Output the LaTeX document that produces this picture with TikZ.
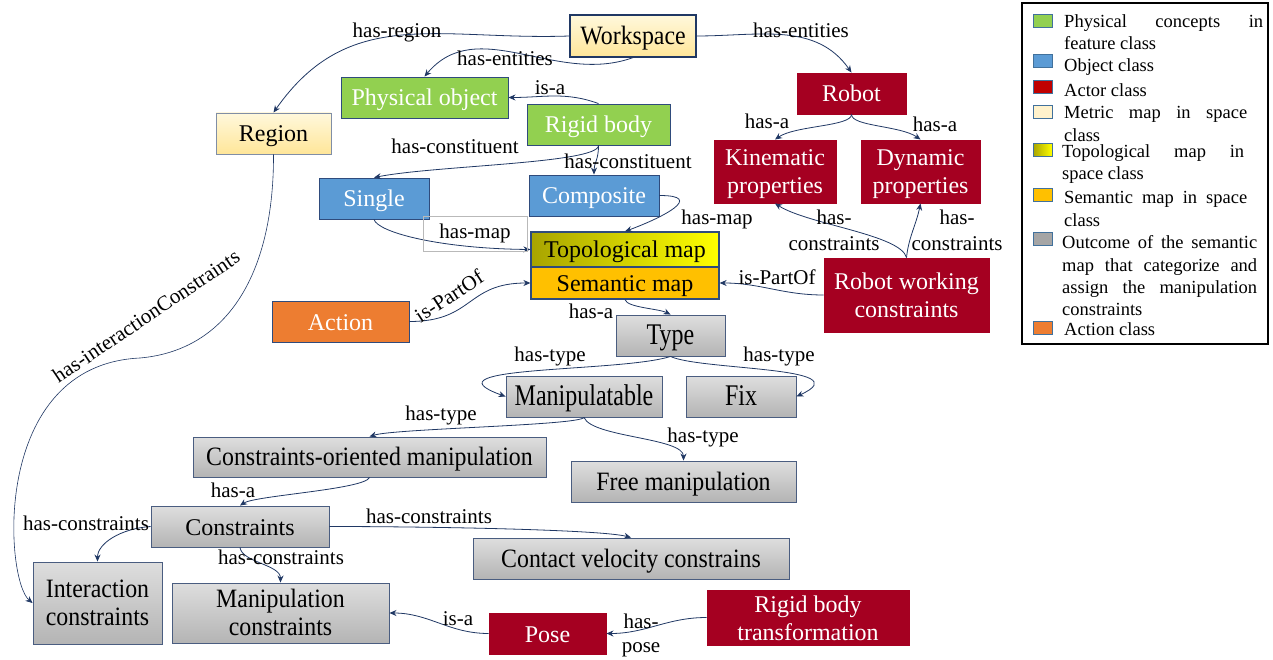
\documentclass[tikz,border=0pt]{standalone}
\usepackage{fontspec}
\setmainfont{Liberation Serif}
\usetikzlibrary{arrows.meta,calc}

\definecolor{cNavy}{HTML}{203864}
\definecolor{cBorder}{HTML}{2F4B7C}
\definecolor{cGreen}{HTML}{92D050}
\definecolor{cBlue}{HTML}{5B9BD5}
\definecolor{cRed}{HTML}{A50021}
\definecolor{cOrange}{HTML}{ED7D31}
\definecolor{cAmber}{HTML}{FFC000}
\definecolor{cCreamTop}{HTML}{FFF8DC}
\definecolor{cCreamBot}{HTML}{FFE699}
\definecolor{cGrayTop}{HTML}{DEDEDE}
\definecolor{cGrayBot}{HTML}{B4B4B4}
\definecolor{cGrayEdge}{HTML}{4A5D80}
\definecolor{cOlive}{HTML}{A8A400}
\definecolor{cMidYellow}{HTML}{EBEB00}
\definecolor{cLegRed}{HTML}{C00000}
\definecolor{cLegGray}{HTML}{A5A5A5}
\definecolor{cLegEdge}{HTML}{41719C}
\definecolor{cLegCream}{HTML}{FFF2CC}

\newcommand\ndfont{\fontsize{24}{28}\selectfont}
% taller, narrower settings of the same face for some box texts
\newcommand\ndfontmid{\fontsize{26.5}{28}\selectfont\addfontfeature{FakeStretch=0.9}}
\newcommand\ndfonttall{\fontsize{30}{32}\selectfont\addfontfeature{FakeStretch=0.8}}
\newcommand\lbfont{\fontsize{21}{26}\selectfont}
\newcommand\lgfont{\fontsize{18.5}{22}\selectfont}

\begin{document}
\begin{tikzpicture}[x=1pt,y=1pt,
  sz/.style 2 args={minimum width=#1pt, minimum height=#2pt},
  base/.style={rectangle, inner sep=0pt, line width=0.9pt, align=center, font=\ndfont,
    text height=22pt, text depth=5pt},
  twoline/.style={text height=50pt},
  mid/.style={font=\ndfontmid},
  tall/.style={font=\ndfonttall},
  green/.style={base, fill=cGreen, draw=cBorder, text=white},
  blue/.style={base, fill=cBlue, draw=cBorder, text=white},
  red/.style={base, fill=cRed, draw=cRed, text=white},
  orangebox/.style={base, fill=cOrange, draw=cBorder, text=white},
  cream/.style={base, draw=cBorder, top color=cCreamTop, bottom color=cCreamBot},
  gray/.style={base, draw=cGrayEdge, top color=cGrayTop, bottom color=cGrayBot},
  topo/.style={base, draw=cBorder, line width=1.2pt, left color=cOlive, middle color=cMidYellow, right color=yellow},
  sem/.style={base, draw=cBorder, line width=1.2pt, fill=cAmber},
  lbl/.style={font=\lbfont, inner sep=0pt, align=center, text=black},
  link/.style={draw=cNavy, line width=0.8pt, -{Stealth[length=7pt,width=6pt]}},
  swatch/.style={rectangle, inner sep=0pt, minimum width=19pt, minimum height=13pt, draw=cLegEdge, line width=0.8pt},
  legtext/.style={font=\lgfont, inner sep=0pt, anchor=base west}
]
\path[fill=white, use as bounding box] (0,0) rectangle (1273,-660);

% ---------- concept boxes ----------
\node[cream, mid, sz={126}{42}, draw=cNavy, line width=1.2pt] (ws) at (633,-36) {Workspace};
\node[green, sz={167}{41}] (phys) at (424.5,-97.5) {Physical object};
\node[green, sz={143}{41}] (rb) at (598.5,-124.5) {Rigid body};
\node[cream, sz={115}{41}, draw=cGrayEdge!70] (region) at (273.5,-133.5) {Region};
\node[red, sz={109}{41}] (robot) at (851.5,-93.5) {Robot};
\node[red, twoline, sz={122}{63}] (kin) at (775,-171.5) {Kinematic\\properties};
\node[red, twoline, sz={119}{63}] (dyn) at (920.5,-171.5) {Dynamic\\properties};
\node[blue, sz={110}{41}] (single) at (374,-198.5) {Single};
\node[blue, sz={130}{41}] (comp) at (594,-195.5) {Composite};
\node[topo, sz={188}{35}] (topomap) at (625,-249.5) {Topological map};
\node[sem, sz={188}{32}] (semmap) at (625,-283) {Semantic map};
\node[red, twoline, sz={165}{74}] (rwc) at (906.5,-295) {Robot working\\constraints};
\node[orangebox, sz={137}{41}] (action) at (340.5,-321.5) {Action};
\node[gray, tall, sz={109}{41}] (type) at (670.5,-335.5) {Type};
\node[gray, tall, sz={156}{41}] (manip) at (584,-396.5) {Manipulatable};
\node[gray, tall, sz={110}{41}] (fix) at (741,-396.5) {Fix};
\node[gray, mid, sz={353}{40}] (co) at (369.5,-457) {Constraints-oriented manipulation};
\node[gray, mid, sz={225}{41}] (free) at (683.5,-481.5) {Free manipulation};
\node[gray, sz={178}{41}] (cons) at (240,-526.5) {Constraints};
\node[gray, mid, sz={316}{41}] (cv) at (631,-558.5) {Contact velocity constrains};
\node[gray, mid, twoline, sz={129}{82}] (inter) at (97.5,-603) {Interaction\\constraints};
\node[gray, mid, twoline, sz={217}{60}] (mc) at (280.5,-613) {Manipulation\\constraints};
\node[red, sz={117}{41}] (pose) at (547.5,-633.5) {Pose};
\node[red, twoline, sz={202}{53}] (rbt) at (808,-617.5) {Rigid body\\transformation};

% ---------- relations ----------
\draw[link] (ws.west) to[out=182, in=55, looseness=1.1] (region.north)
  node[lbl] at (397,-32) {has-region};
\draw[link] (ws.south) to[out=200, in=50] (phys.north)
  node[lbl] at (505,-58) {has-entities};
\draw[link] (ws.east) to[out=0, in=125] (robot.north)
  node[lbl] at (801,-30) {has-entities};
\draw[link] (rb.north) to[out=160, in=0] (phys.east)
  node[lbl] at (550,-88) {is-a};
\draw[link] (rb.south) .. controls +(0,-18) and +(60,12) .. (single.north)
  node[lbl] at (455,-146) {has-constituent};
\draw[link] (rb.south) .. controls +(0,-15) and +(0,12) .. (comp.north)
  node[lbl] at (628,-161) {has-constituent};
\draw[link] (robot.south) .. controls +(0,-12) and +(20,14) .. (kin.north)
  node[lbl] at (767,-121) {has-a};
\draw[link] (robot.south) .. controls +(0,-12) and +(-20,14) .. (dyn.north)
  node[lbl] at (935,-124) {has-a};
\draw[link] (rwc.north) .. controls +(-6,23) and +(33,-21) .. (kin.south)
  node[lbl] at (834,-230) {has-\\constraints};
\draw[link] (rwc.north) .. controls +(2,20) and +(-4,-20) .. (dyn.south)
  node[lbl] at (957,-230) {has-\\constraints};
\draw[link] (rwc.west) to[out=180, in=0] (semmap.east)
  node[lbl] at (777,-277) {is-PartOf};
\draw[link] (single.south) .. controls +(4,-13) and +(-91,1) .. (topomap.west)
  node[lbl, draw=gray!55, line width=0.6pt, minimum width=104pt, minimum height=35pt] at (475,-233.5) {has-map};
\draw[link] (comp.east) .. controls +(46,0) and +(38,14) .. (topomap.north)
  node[lbl] at (717,-219) {has-map};
\draw[link] (action.east) to[out=0, in=180, looseness=1.3] (semmap.west)
  node[lbl, rotate=33] at (449,-296) {is-PartOf};
\draw[link] (semmap.south) .. controls +(2,-8) and +(-12,6) .. (type.north)
  node[lbl] at (591,-311) {has-a};
\draw[link] (type.south) .. controls +(-50,-16) and +(-86,31) .. (manip.west)
  node[lbl] at (550,-356) {has-type};
\draw[link] (type.south) .. controls +(30,-14) and +(66,30) .. (fix.east)
  node[lbl] at (779,-356) {has-type};
\draw[link] (manip.south) .. controls +(-5,-8) and +(25,8) .. (co.north)
  node[lbl] at (441,-415) {has-type};
\draw[link] (manip.south) .. controls +(8,-20) and +(0,23) .. (free.north)
  node[lbl] at (703,-437) {has-type};
\draw[link] (co.south) .. controls +(-5,-12) and +(15,10) .. (cons.north)
  node[lbl] at (233,-490) {has-a};
\draw[link] (cons.east) .. controls +(100,0) and +(-30,8) .. (cv.north)
  node[lbl] at (429,-516) {has-constraints};
\draw[link] (cons.west) .. controls +(-30,-2) and +(0,18) .. (inter.north)
  node[lbl] at (86,-523) {has-constraints};
\draw[link] (cons.south) .. controls +(2,-15) and +(0,18) .. (mc.north)
  node[lbl] at (281,-557) {has-constraints};
\draw[link, line width=0.6pt] (region.south) .. controls (274,-270) and (230,-350) .. (140,-358)
  .. controls (-10,-365) and (5,-580) .. (inter.west)
  node[lbl, rotate=34] at (146,-316) {has-interactionConstraints};
\draw[link] (pose.west) to[out=180, in=0] (mc.east)
  node[lbl] at (458,-619) {is-a};
\draw[link] (rbt.west) to[out=180, in=0] (pose.east)
  node[lbl, font=\fontsize{21}{24}\selectfont] at (641,-635) {has-\\pose};

% ---------- legend ----------
\node[draw=black, line width=1.2pt, minimum width=246pt, minimum height=341pt, inner sep=0pt] (legend) at (1145,-173.5) {};
\node[swatch, fill=cGreen] (swA) at (1042.5,-20.5) {};
\node[swatch, fill=cBlue] (swB) at (1042.5,-61) {};
\node[swatch, fill=cLegRed] (swC) at (1042.5,-87) {};
\node[swatch, fill=cLegCream] (swD) at (1042.5,-112) {};
\node[swatch, left color=cOlive, middle color=cMidYellow, right color=yellow] (swE) at (1042.5,-150) {};
\node[swatch, fill=cAmber] (swF) at (1042.5,-195) {};
\node[swatch, fill=cLegGray] (swG) at (1042.5,-238.5) {};
\node[swatch, fill=cOrange] (swH) at (1042.5,-327.5) {};

\node[legtext] (lA1) at (1064,-28) {\makebox[199pt][s]{Physical concepts in}};
\node[legtext] (lA2) at (1064,-50) {feature class};
\node[legtext] (lB1) at (1064,-72) {Object class};
\node[legtext] (lC1) at (1064,-97) {Actor class};
\node[legtext] (lD1) at (1064,-119) {\makebox[183pt][s]{Metric map in space}};
\node[legtext] (lD2) at (1064,-142) {class};
\node[legtext] (lE1) at (1062,-158) {\makebox[182pt][s]{Topological map in}};
\node[legtext] (lE2) at (1062,-180) {space class};
\node[legtext] (lF1) at (1064,-204) {\makebox[183pt][s]{Semantic map in space}};
\node[legtext] (lF2) at (1064,-227) {class};
\node[legtext] (lG1) at (1062,-248) {\makebox[195pt][s]{Outcome of the semantic}};
\node[legtext] (lG2) at (1062,-271) {\makebox[195pt][s]{map that categorize and}};
\node[legtext] (lG3) at (1062,-293) {\makebox[195pt][s]{assign the manipulation}};
\node[legtext] (lG4) at (1062,-315) {constraints};
\node[legtext] (lH1) at (1064,-335) {Action class};
\end{tikzpicture}
\end{document}
